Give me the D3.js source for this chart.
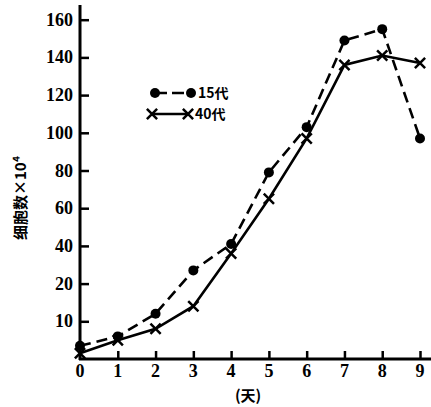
<!DOCTYPE html>
<html>
<head>
<meta charset="utf-8">
<script src="https://cdn.jsdelivr.net/npm/d3@7"></script>
<style>
  body { margin: 0; background: #fff; }
</style>
</head>
<body>
<script>
// data
var days = [0, 1, 2, 3, 4, 5, 6, 7, 8, 9];
var gen15 = [3.5, 6, 12, 27, 41, 79, 103, 149, 155, 97];
var gen40 = [1.5, 5, 8, 14, 36, 65, 97, 136, 141, 137];
var yTicks = [0, 10, 20, 40, 60, 80, 100, 120, 140, 160];

var width = 431, height = 407;
var svg = d3.select('body').append('svg')
    .attr('width', width)
    .attr('height', height);

var x = d3.scaleLinear().domain([0, 9]).range([80, 420]);
// the y axis is stretched at the bottom: every tick gets the same gap
var y = d3.scaleLinear()
    .domain(yTicks)
    .range(yTicks.map(function (d, i) { return 359 - i * 37.7; }));

var numFont = 'Liberation Serif, Times New Roman, serif';
var cjkFont = 'Noto Sans CJK SC, sans-serif';

// axes
var yAxis = d3.axisRight(y).tickValues(yTicks.slice(1)).tickSize(9).tickFormat('');
svg.append('g').attr('transform', 'translate(' + x(0) + ',0)').call(yAxis)
    .call(function (g) {
      g.select('.domain').remove();
      g.selectAll('line').attr('stroke-width', 2.5);
    });
var xAxis = d3.axisTop(x).tickValues(days.slice(1)).tickSize(8).tickFormat('');
svg.append('g').attr('transform', 'translate(0,' + y(0) + ')').call(xAxis)
    .call(function (g) {
      g.select('.domain').remove();
      g.selectAll('line').attr('stroke-width', 2.5);
    });

svg.append('line')
    .attr('x1', x(0)).attr('x2', x(0))
    .attr('y1', 5).attr('y2', y(0) + 1)
    .attr('stroke', '#000').attr('stroke-width', 3);
svg.append('line')
    .attr('x1', x(0) - 1).attr('x2', 431)
    .attr('y1', y(0)).attr('y2', y(0))
    .attr('stroke', '#000').attr('stroke-width', 3);

// tick labels
svg.selectAll('text.ylab')
    .data(yTicks.slice(1))
    .enter().append('text')
    .attr('class', 'ylab')
    .attr('x', 73)
    .attr('y', function (d) { return y(d) + 6; })
    .attr('text-anchor', 'end')
    .style('font-family', numFont)
    .style('font-weight', 'bold')
    .style('font-size', '18px')
    .text(function (d) { return d; });

svg.selectAll('text.xlab')
    .data(days)
    .enter().append('text')
    .attr('class', 'xlab')
    .attr('x', function (d) { return x(d); })
    .attr('y', 377)
    .attr('text-anchor', 'middle')
    .style('font-family', numFont)
    .style('font-weight', 'bold')
    .style('font-size', '18px')
    .text(function (d) { return d; });

svg.append('text')
    .attr('x', x(4.45))
    .attr('y', 401)
    .attr('text-anchor', 'middle')
    .style('font-family', cjkFont)
    .style('font-weight', 'bold')
    .style('font-size', '15px')
    .text('(天)');

svg.append('text')
    .attr('transform', 'translate(26,198) rotate(-90)')
    .attr('text-anchor', 'middle')
    .style('font-family', cjkFont)
    .style('font-weight', 'bold')
    .style('font-size', '15px')
    .text('细胞数×10⁴');

// lines
var line = d3.line()
    .x(function (d, i) { return x(days[i]); })
    .y(function (d) { return y(d); });

svg.append('path')
    .datum(gen15)
    .attr('fill', 'none')
    .attr('stroke', '#000')
    .attr('stroke-width', 2.6)
    .attr('stroke-dasharray', '11,6')
    .attr('d', line);

svg.append('path')
    .datum(gen40)
    .attr('fill', 'none')
    .attr('stroke', '#000')
    .attr('stroke-width', 2.6)
    .attr('d', line);

// markers
svg.selectAll('circle.g15')
    .data(gen15)
    .enter().append('circle')
    .attr('class', 'g15')
    .attr('cx', function (d, i) { return x(days[i]); })
    .attr('cy', function (d) { return y(d); })
    .attr('r', 5)
    .attr('fill', '#000');

var cross = d3.symbol().type(d3.symbolX).size(70);
svg.selectAll('path.g40')
    .data(gen40)
    .enter().append('path')
    .attr('class', 'g40')
    .attr('transform', function (d, i) { return 'translate(' + x(days[i]) + ',' + y(d) + ')'; })
    .attr('d', cross)
    .attr('fill', 'none')
    .attr('stroke', '#000')
    .attr('stroke-width', 2.5);

// legend
var lg = svg.append('g');
lg.append('line')
    .attr('x1', 155).attr('x2', 191).attr('y1', 93).attr('y2', 93)
    .attr('stroke', '#000').attr('stroke-width', 2.5).attr('stroke-dasharray', '12,5');
lg.selectAll('circle')
    .data([155, 191])
    .enter().append('circle')
    .attr('cx', function (d) { return d; })
    .attr('cy', 93)
    .attr('r', 5)
    .attr('fill', '#000');
lg.append('line')
    .attr('x1', 152).attr('x2', 188).attr('y1', 114).attr('y2', 114)
    .attr('stroke', '#000').attr('stroke-width', 2.5);
lg.selectAll('path')
    .data([152, 188])
    .enter().append('path')
    .attr('transform', function (d) { return 'translate(' + d + ',114)'; })
    .attr('d', cross)
    .attr('fill', 'none')
    .attr('stroke', '#000')
    .attr('stroke-width', 2.5);
lg.append('text')
    .attr('x', 198).attr('y', 98)
    .style('font-family', cjkFont).style('font-weight', 'bold').style('font-size', '14px')
    .text('15代');
lg.append('text')
    .attr('x', 195).attr('y', 119)
    .style('font-family', cjkFont).style('font-weight', 'bold').style('font-size', '14px')
    .text('40代');
</script>
</body>
</html>
